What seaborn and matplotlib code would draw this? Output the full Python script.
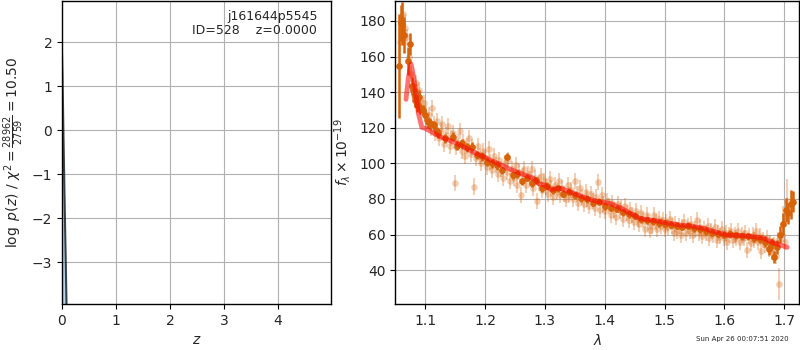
import numpy as np
import matplotlib
matplotlib.use("Agg")
import matplotlib.pyplot as plt
import seaborn as sns
import pandas as pd

sns.set_style("ticks", {"axes.grid": True, "grid.color": "#b0b0b0",
                        "axes.edgecolor": "black", "xtick.direction": "out",
                        "ytick.direction": "out"})
plt.rcParams['font.family'] = ['DejaVu Sans']

# p(z) panel
z_pz = [0.0, 0.01, 0.03, 0.05, 0.07, 0.09, 0.12]
logp_pz = [1.75, 1.2, -0.3, -1.7, -3.0, -4.4, -6.5]
logp_fill = [1.9, 1.5, 0.3, -1.0, -2.3, -3.6, -5.5]

# best-fit model
lam_m = [1.068, 1.072, 1.0766, 1.081, 1.0888, 1.0945, 1.100, 1.125, 1.153, 1.180,
         1.209, 1.240, 1.270, 1.281, 1.290, 1.300, 1.309, 1.326, 1.350, 1.370,
         1.390, 1.409, 1.426, 1.440, 1.459, 1.482, 1.505, 1.526, 1.545, 1.565,
         1.585, 1.6045, 1.625, 1.649, 1.665, 1.677, 1.690, 1.705]
flux_m = [136, 148, 155.8, 148, 128, 120.2, 119.7, 115, 111.2, 106.5,
          101.9, 97, 93, 91.6, 88.5, 87.8, 85.4, 86, 83, 80.3,
          78.5, 77.5, 75, 72.5, 69, 68, 66.5, 65.3, 64.8, 63.5,
          61.5, 59.7, 59.5, 58.8, 58, 56, 54.5, 52.8]

# binned spectrum
lam_b = [1.057, 1.060, 1.062, 1.065, 1.071, 1.075, 1.078, 1.080, 1.083, 1.086,
         1.089, 1.092, 1.096, 1.100, 1.104, 1.108, 1.114, 1.120, 1.122, 1.134,
         1.147, 1.153, 1.161, 1.170, 1.178, 1.186, 1.195, 1.203, 1.212, 1.220,
         1.228, 1.237, 1.246, 1.254, 1.262, 1.270, 1.278, 1.286, 1.295, 1.304,
         1.313, 1.322, 1.331, 1.340, 1.350, 1.360, 1.370, 1.380, 1.390, 1.400,
         1.410, 1.420, 1.430, 1.440, 1.450, 1.460, 1.470, 1.480, 1.490, 1.500,
         1.510, 1.520, 1.530, 1.540, 1.550, 1.560, 1.570, 1.580, 1.590, 1.600,
         1.610, 1.620, 1.630, 1.640, 1.650, 1.660, 1.668, 1.674, 1.679, 1.683,
         1.688, 1.693, 1.698, 1.703, 1.707, 1.711, 1.715]
flux_b = [154.7, 179, 178.5, 172, 157.5, 167, 143.5, 141, 135.6, 132.8,
          137.5, 131, 130, 127, 123, 122.5, 121.5, 118, 116.9, 114,
          115, 110, 111.2, 109, 109.4, 104.7, 104, 101, 100, 99,
          96, 103.8, 93.4, 94, 90, 92, 89, 90.5, 86, 87.5,
          85, 86, 83, 84, 82, 80.5, 80, 78, 78.5, 76,
          75, 74.5, 72.5, 71.5, 70.5, 68.5, 68, 67.5, 66.5, 66,
          65.5, 65, 64.5, 65, 63.5, 63, 62, 61, 60.5, 60,
          60.5, 59.5, 59, 59, 58, 57.5, 56, 51.7, 55, 47.5,
          53, 60, 66, 73.8, 72, 77, 78.4]
err_b = [29, 10, 12, 10, 8, 6, 5, 4, 4, 4,
         4, 3, 3, 3, 3, 3, 2.5, 2.5, 2.5, 2.5,
         2.5, 2.5, 2.5, 2.5, 2.5, 2.5, 2.5, 2.5, 2.5, 2.5,
         2, 2, 2, 2, 2, 2, 2, 2, 2, 2,
         2, 2, 2, 2, 2, 2, 2, 2, 2, 2,
         2, 2, 2, 2, 2, 2, 2, 2, 2, 2,
         2, 2, 2, 2, 2, 2, 2, 2, 2, 2,
         2, 2, 2, 2, 2, 2.5, 3, 3, 3, 3.5,
         4, 5, 6, 7, 6, 8, 6]

# unbinned spectrum
lam_f = [1.070, 1.073, 1.076, 1.079, 1.081, 1.084, 1.087, 1.090, 1.092, 1.095,
         1.098, 1.101, 1.103, 1.106, 1.109, 1.111, 1.114, 1.117, 1.120, 1.123,
         1.126, 1.129, 1.132, 1.135, 1.138, 1.141, 1.144, 1.147, 1.150, 1.152,
         1.155, 1.158, 1.161, 1.164, 1.167, 1.170, 1.173, 1.176, 1.179, 1.182,
         1.185, 1.188, 1.191, 1.194, 1.197, 1.200, 1.203, 1.206, 1.209, 1.212,
         1.215, 1.218, 1.221, 1.224, 1.227, 1.230, 1.233, 1.236, 1.239, 1.242,
         1.245, 1.248, 1.251, 1.254, 1.257, 1.260, 1.263, 1.266, 1.269, 1.272,
         1.275, 1.278, 1.281, 1.284, 1.287, 1.290, 1.293, 1.296, 1.299, 1.302,
         1.305, 1.308, 1.311, 1.314, 1.317, 1.320, 1.323, 1.326, 1.329, 1.332,
         1.335, 1.338, 1.341, 1.344, 1.347, 1.350, 1.353, 1.356, 1.359, 1.362,
         1.365, 1.368, 1.371, 1.374, 1.377, 1.380, 1.383, 1.386, 1.389, 1.392,
         1.395, 1.398, 1.401, 1.404, 1.407, 1.410, 1.413, 1.416, 1.419, 1.422,
         1.425, 1.428, 1.431, 1.434, 1.437, 1.440, 1.443, 1.446, 1.449, 1.452,
         1.455, 1.458, 1.461, 1.464, 1.467, 1.470, 1.473, 1.476, 1.479, 1.482,
         1.485, 1.488, 1.491, 1.494, 1.497, 1.500, 1.503, 1.506, 1.509, 1.512,
         1.515, 1.518, 1.521, 1.524, 1.527, 1.530, 1.533, 1.536, 1.539, 1.542,
         1.545, 1.548, 1.551, 1.554, 1.557, 1.560, 1.563, 1.566, 1.569, 1.572,
         1.575, 1.578, 1.581, 1.584, 1.587, 1.590, 1.593, 1.596, 1.599, 1.602,
         1.605, 1.608, 1.611, 1.614, 1.617, 1.620, 1.623, 1.626, 1.629, 1.632,
         1.635, 1.638, 1.641, 1.644, 1.647, 1.650, 1.653, 1.656, 1.659, 1.662,
         1.665, 1.668, 1.671, 1.674, 1.677, 1.680, 1.683, 1.686, 1.689, 1.701]
flux_f = [171, 160, 150, 142, 138, 145, 140, 141, 136, 131,
          134, 128, 124, 127, 120, 131, 122, 117, 124, 114,
          118, 122, 111, 116, 121, 110, 114, 117, 89, 109,
          112, 118, 107, 112, 104, 110, 114, 105, 109, 87,
          103, 110, 104, 100, 107, 103, 98, 108, 101, 96,
          104, 99, 94, 102, 97, 92, 100, 95, 102, 90,
          97, 92, 99, 88, 95, 82, 93, 97, 88, 94,
          91, 97, 86, 92, 79, 89, 93, 85, 90, 87,
          83, 91, 86, 81, 88, 84, 90, 82, 86, 83,
          80, 88, 82, 85, 80, 90, 83, 78, 86, 81,
          77, 84, 80, 76, 83, 79, 75, 81, 89.7, 74,
          82, 77, 73, 79, 76, 71, 78, 74, 70, 77,
          73, 75, 69, 76, 72, 68, 74, 71, 67, 73,
          69, 66, 72, 68, 63, 71, 67, 62.5, 65, 71,
          67, 63, 69, 65, 68, 63, 67, 64, 69, 65,
          61, 66, 62, 65, 60, 64, 67, 61, 65, 62,
          66, 60, 63, 68, 61, 64, 59, 63, 61, 65,
          58, 62, 60, 64, 57, 61, 59, 63, 58, 61,
          56, 60, 62, 57, 60, 58, 62, 56, 60, 58,
          61, 51.3, 59, 55, 60, 57, 62, 56, 59, 51,
          57, 54, 58, 52, 55, 50, 54, 48, 57, 56]
faint_err = 4.5

# unbinned points with large errors at the ends
lam_fe = [1.058, 1.063, 1.066, 1.692, 1.698, 1.704]
flux_fe = [168, 184, 176, 32, 66, 79]
err_fe = [12, 10, 8, 9, 10, 12]

assert len(lam_b) == len(flux_b) == len(err_b)
assert len(lam_f) == len(flux_f)
assert len(lam_m) == len(flux_m)

orange = "#d6620a"

fig = plt.figure(figsize=(8, 3.5), dpi=100)
ax1 = fig.add_axes([0.0775, 0.131, 0.336, 0.866])
ax2 = fig.add_axes([0.494, 0.131, 0.505, 0.866])

# left: log p(z)
ax1.fill_between(z_pz, logp_fill, -10, color="#6baed6", alpha=0.5, lw=0)
sns.lineplot(x=z_pz, y=logp_pz, color="k", alpha=0.7, lw=1.5, ax=ax1)
ax1.set_xlim(0, 4.98)
ax1.set_ylim(-3.95, 2.93)
ax1.set_xticks([0, 1, 2, 3, 4])
ax1.set_yticks([-3, -2, -1, 0, 1, 2])
ax1.set_xlabel(r"$z$")
ax1.set_ylabel(r"$\log\ p(z)$ / $\chi^2=\frac{28962}{2759}=10.50$")
ax1.text(0.95, 0.97, "j161644p5545\nID=528    z=0.0000", transform=ax1.transAxes,
         ha="right", va="top", fontsize=9, linespacing=1.1)

# right: spectrum
ax2.errorbar(lam_f, flux_f, yerr=faint_err, fmt="o", color=orange, alpha=0.3,
             ms=4.8, mec="none", elinewidth=1.5, zorder=2)
ax2.errorbar(lam_fe, flux_fe, yerr=err_fe, fmt="o", color=orange, alpha=0.3,
             ms=4.8, mec="none", elinewidth=1.5, zorder=2)
ax2.errorbar(lam_b, flux_b, yerr=err_b, fmt="o", color=orange, alpha=1.0,
             ms=4.8, mec="none", elinewidth=1.8, zorder=3)
model = pd.DataFrame({"lam": lam_m, "flux": flux_m})
sns.lineplot(data=model, x="lam", y="flux", color="r", alpha=0.55, lw=3.5,
             ax=ax2, zorder=4)
ax2.set_xlim(1.05, 1.725)
ax2.set_ylim(20.9, 191.2)
ax2.set_xticks([1.1, 1.2, 1.3, 1.4, 1.5, 1.6, 1.7])
ax2.set_yticks([40, 60, 80, 100, 120, 140, 160, 180])
ax2.set_xlabel(r"$\lambda$")
ax2.set_ylabel(r"$f_\lambda\times10^{-19}$")

for ax in (ax1, ax2):
    ax.grid(True, color="#b0b0b0", lw=0.8)
    ax.tick_params(labelsize=10, length=3.5, color="black")
    for s in ax.spines.values():
        s.set_visible(True)
        s.set_linewidth(1.0)

fig.text(0.986, 0.031, "Sun Apr 26 00:07:51 2020", ha="right", va="center",
         fontsize=5)

fig.savefig("out.png", dpi=100)
